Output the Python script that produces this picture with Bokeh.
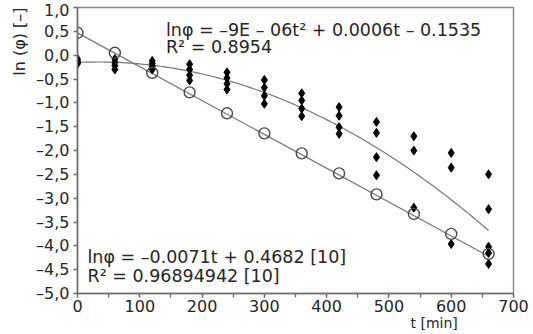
import numpy as np
from bokeh.plotting import figure
from bokeh.models import (Range1d, SingleIntervalTicker, CustomJSTickFormatter, Label, Title)
from bokeh.embed import file_html
from bokeh.resources import INLINE

# Sampling times [min]
t_open = [0, 60, 120, 180, 240, 300, 360, 420, 480, 540, 600, 660]
# ln(phi) reference series [10]
lnphi_open = [0.47, 0.05, -0.37, -0.78, -1.22, -1.64, -2.06, -2.48, -2.92, -3.33, -3.75, -4.17]

# Measured replicates ln(phi) per sampling time
t_meas = ([0] * 4 + [60] * 4 + [120] * 4 + [180] * 4 + [240] * 4 + [300] * 4 +
          [360] * 4 + [420] * 4 + [480] * 4 + [540] * 3 + [600] * 3 + [660] * 5)
lnphi_meas = [-0.08, -0.12, -0.15, -0.18,
              -0.08, -0.15, -0.22, -0.30,
              -0.12, -0.18, -0.24, -0.30,
              -0.19, -0.30, -0.42, -0.53,
              -0.36, -0.48, -0.60, -0.72,
              -0.52, -0.68, -0.85, -1.02,
              -0.80, -0.95, -1.12, -1.28,
              -1.09, -1.27, -1.51, -1.65,
              -1.40, -1.63, -2.14, -2.52,
              -1.70, -2.00, -3.20,
              -2.05, -2.36, -3.96,
              -2.50, -3.23, -4.02, -4.15, -4.38]

# Fit coefficients as printed on the chart
quad_a, quad_b, quad_c = -9e-06, 0.0006, -0.1535
lin_k, lin_q = -0.0071, 0.4682

FONT = "DejaVu Sans"
TEXT = "#262626"
LINE_GRAY = "#777777"
AXIS_GRAY = "#6e6e6e"

p = figure(width=533, height=334, output_backend="svg", toolbar_location=None,
           x_range=Range1d(0, 700), y_range=Range1d(-5, 1),
           min_border_left=77, min_border_right=20, min_border_top=7,
           min_border_bottom=41)
p.background_fill_color = "white"
p.border_fill_color = "white"
p.outline_line_color = "#8a8a8a"
p.outline_line_width = 1.5
p.grid.visible = False

# fitted curves
tt = np.linspace(0, 660, 200)
p.line(tt, quad_a * tt ** 2 + quad_b * tt + quad_c, line_color=LINE_GRAY, line_width=1.2)
tl = np.array([0, 660])
p.line(tl, lin_k * tl + lin_q, line_color=LINE_GRAY, line_width=1.2)

# measured replicates
p.scatter(t_meas, lnphi_meas, marker="diamond", size=9, fill_color="black",
          line_color="black")
# reference points
p.scatter(t_open, lnphi_open, marker="circle", size=11, fill_color="white",
          fill_alpha=0.0, line_color="#4a4a4a", line_width=1.4)

# axes
p.xaxis.ticker = SingleIntervalTicker(interval=100, num_minor_ticks=2)
p.yaxis.ticker = SingleIntervalTicker(interval=0.5, num_minor_ticks=0)
p.yaxis.formatter = CustomJSTickFormatter(code="""
    const v = Math.abs(tick) < 1e-9 ? 0 : tick;
    return (v < 0 ? '\u2013' : '') + Math.abs(v).toFixed(1).replace('.', ',');
""")
for ax in (p.xaxis[0], p.yaxis[0]):
    ax.axis_line_color = AXIS_GRAY
    ax.axis_line_width = 1.5
    ax.major_tick_line_color = AXIS_GRAY
    ax.minor_tick_line_color = AXIS_GRAY
    ax.major_tick_line_width = 1.3
    ax.minor_tick_line_width = 1.3
    ax.major_tick_out = 4
    ax.major_tick_in = 0
    ax.minor_tick_out = 4
    ax.minor_tick_in = 0
    ax.major_label_text_font = FONT
    ax.major_label_text_font_size = "16px"
    ax.major_label_text_color = TEXT
p.xaxis.major_label_standoff = 2
p.yaxis.major_label_standoff = 4

# axis titles
p.add_layout(Title(text="ln (\u03c6) [\u2013]", align="right", text_font=FONT,
                   text_font_size="16px", text_font_style="normal",
                   text_color=TEXT), "left")
p.add_layout(Title(text="t [min]", align="left", offset=333, standoff=0,
                   text_font=FONT, text_font_size="14px", text_font_style="normal",
                   text_color=TEXT, vertical_align="top"), "below")

# fit equations
eq_style = dict(text_font=FONT, text_font_size="17.5px", text_color=TEXT,
                text_baseline="alphabetic")
p.add_layout(Label(x=142, y=0.53,
                   text="ln\u03c6 = \u20139E \u2013 06t\u00b2 + 0.0006t \u2013 0.1535", **eq_style))
p.add_layout(Label(x=142, y=0.18, text="R\u00b2 = 0.8954", **eq_style))
p.add_layout(Label(x=16, y=-4.24,
                   text="ln\u03c6 = \u20130.0071t + 0.4682 [10]", **eq_style))
p.add_layout(Label(x=16, y=-4.63, text="R\u00b2 = 0.96894942 [10]", **eq_style))

open("out.html", "w").write(file_html(p, INLINE))
